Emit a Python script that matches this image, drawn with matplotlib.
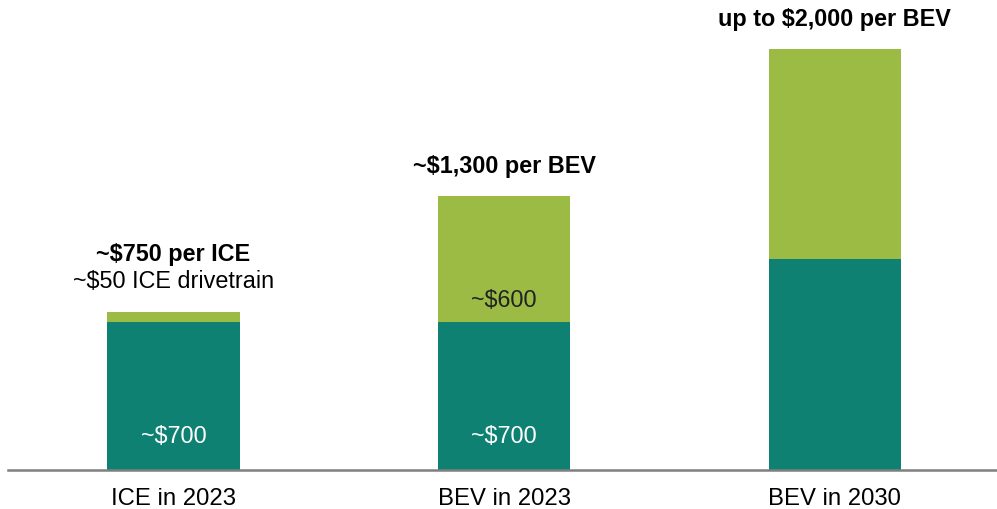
import matplotlib.pyplot as plt

plt.rcParams['font.family'] = ['Liberation Sans', 'DejaVu Sans']

categories = ["ICE in 2023", "BEV in 2023", "BEV in 2030"]
base_values = [700, 700, 1000]
extra_values = [50, 600, 1000]
base_labels = ["~$700", "~$700", ""]
extra_labels = ["", "~$600", ""]
total_labels = ["~$750 per ICE", "~$1,300 per BEV", "up to $2,000 per BEV"]
sub_labels = ["~$50 ICE drivetrain", "", ""]

DARK = "#0E8173"
LIGHT = "#9CBB45"
FS = 16.8

fig = plt.figure(figsize=(9.97, 5.09), dpi=100)
ax = fig.add_axes([8/997, 39.5/509, 989/997, 469.5/509])

x = list(range(len(categories)))
width = 0.40
ax.bar(x, base_values, width, color=DARK, linewidth=0)
ax.bar(x, extra_values, width, bottom=base_values, color=LIGHT, linewidth=0)

for i in x:
    total = base_values[i] + extra_values[i]
    if base_labels[i]:
        ax.text(i, 156, base_labels[i], ha="center", va="center",
                color="white", fontsize=FS)
    if extra_labels[i]:
        ax.text(i, base_values[i] + 103, extra_labels[i], ha="center",
                va="center", color="#222222", fontsize=FS)
    offset = 139
    if sub_labels[i]:
        ax.text(i, total + 144, sub_labels[i], ha="center", va="center",
                fontsize=FS)
        offset = 273
    ax.text(i, total + offset, total_labels[i], ha="center", va="center",
            fontweight="bold", fontsize=FS)

ax.set_xlim(-0.5, 2.49)
ax.set_ylim(0, 2233)
ax.set_xticks(x)
ax.set_xticklabels(categories, fontsize=17.2)
ax.tick_params(axis="x", length=0, pad=13)
ax.set_yticks([])
for side in ["top", "right", "left"]:
    ax.spines[side].set_visible(False)
ax.spines["bottom"].set_color("#7f7f7f")
ax.spines["bottom"].set_linewidth(1.8)

fig.savefig("out.png", dpi=100)
